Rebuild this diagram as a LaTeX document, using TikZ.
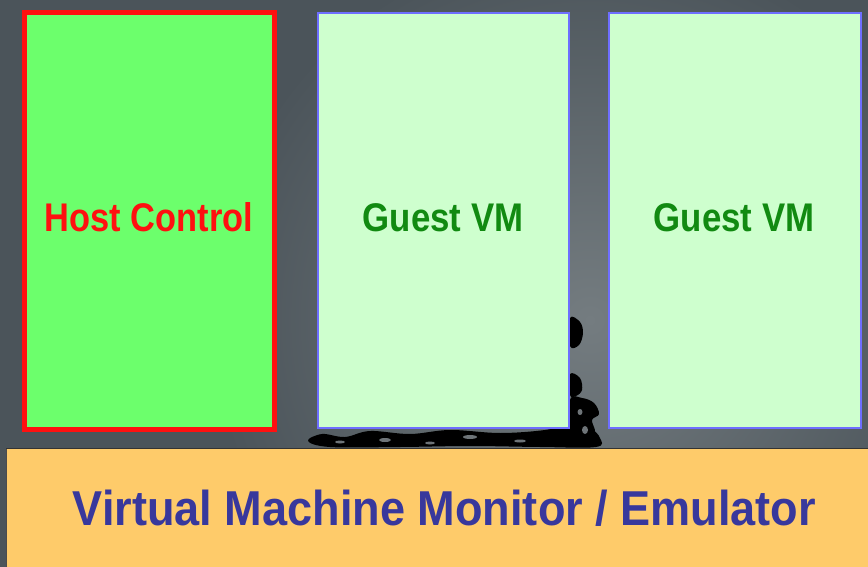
\documentclass[tikz,border=0pt]{standalone}
\usepackage{fontspec}
\usepackage{graphicx}
\setmainfont{Liberation Sans}
\definecolor{bgc}{HTML}{4B545A}
\definecolor{glow}{HTML}{747C80}
\definecolor{hostfill}{HTML}{6CFF6C}
\definecolor{hostline}{HTML}{FF1010}
\definecolor{guestfill}{HTML}{CEFFCE}
\definecolor{guestline}{HTML}{6E6EFF}
\definecolor{guesttext}{HTML}{118A11}
\definecolor{barfill}{HTML}{FECB6A}
\definecolor{bartext}{HTML}{38389C}
\definecolor{hole}{HTML}{6E7478}
\tikzset{
  hostbox/.style={draw=hostline, line width=5pt, fill=hostfill, rectangle, inner sep=0pt},
  guestbox/.style={draw=guestline, line width=2pt, fill=guestfill, rectangle, inner sep=0pt},
  bigtext/.style={font=\bfseries\fontsize{40}{48}\selectfont, anchor=base, inner sep=0pt},
  bartextstyle/.style={font=\bfseries\fontsize{49}{58}\selectfont, anchor=base, inner sep=0pt, text=bartext},
  blot/.style={fill=black, draw=none},
  holes/.style={fill=hole, draw=none}
}
\begin{document}
\begin{tikzpicture}[x=1pt,y=-1pt]
  \useasboundingbox (0,0) rectangle (868,567);
  \fill[bgc] (0,0) rectangle (868,567);
  \begin{scope}
    \clip (0,0) rectangle (868,567);
    \shade[inner color=glow, outer color=bgc] (590,320) circle (380);
  \end{scope}
  % ink blot behind boxes
  \fill[blot] plot[smooth cycle, tension=0.6] coordinates {(308,441) (322,434) (345,437) (370,431) (410,434) (450,430) (500,433) (545,430) (572,424) (590,428) (600,438) (596,447) (540,447) (470,446) (400,447) (330,447)};
  \fill[blot] plot[smooth cycle, tension=0.6] coordinates {(570,318) (580,322) (583,333) (579,345) (570,346)};
  \fill[blot] plot[smooth cycle, tension=0.6] coordinates {(570,374) (580,378) (582,390) (576,396) (570,395)};
  \fill[blot] plot[smooth cycle, tension=0.6] coordinates {(570,400) (582,398) (594,403) (599,414) (592,420) (595,432) (588,440) (578,446) (570,440)};
  \fill[holes] (340,442) ellipse (5 and 1.5);
  \fill[holes] (385,440) ellipse (6 and 2);
  \fill[holes] (430,443) ellipse (5 and 1.5);
  \fill[holes] (470,437) ellipse (7 and 2);
  \fill[holes] (520,441) ellipse (6 and 1.5);
  \fill[holes] (585,430) ellipse (3 and 4);
  \fill[holes] (580,412) ellipse (2.5 and 3);
  % boxes
  \node[hostbox, minimum width=250pt, minimum height=417pt] (host) at (149.5,221) {};
  \node[guestbox, minimum width=251pt, minimum height=415pt] (guest1) at (443.5,220.5) {};
  \node[guestbox, minimum width=252pt, minimum height=415pt] (guest2) at (735,220.5) {};
  \node[bigtext, text=hostline] (hosttxt) at (149,232) {\scalebox{0.86}[1]{Host Control}};
  \node[bigtext, text=guesttext] (g1txt) at (443,232) {\scalebox{0.87}[1]{Guest VM}};
  \node[bigtext, text=guesttext] (g2txt) at (734,232) {\scalebox{0.87}[1]{Guest VM}};
  % bottom bar
  \fill[barfill] (6,449) rectangle (868,567);
  \draw[line width=1.5pt, color=black!80] (6,448.5) -- (868,448.5);
  \draw[line width=1pt, color=black!70] (6.5,448.5) -- (6.5,567);
  \node[bartextstyle] (vmm) at (444.5,525) {\scalebox{0.92}[1]{Virtual Machine Monitor / Emulator}};
\end{tikzpicture}
\end{document}
